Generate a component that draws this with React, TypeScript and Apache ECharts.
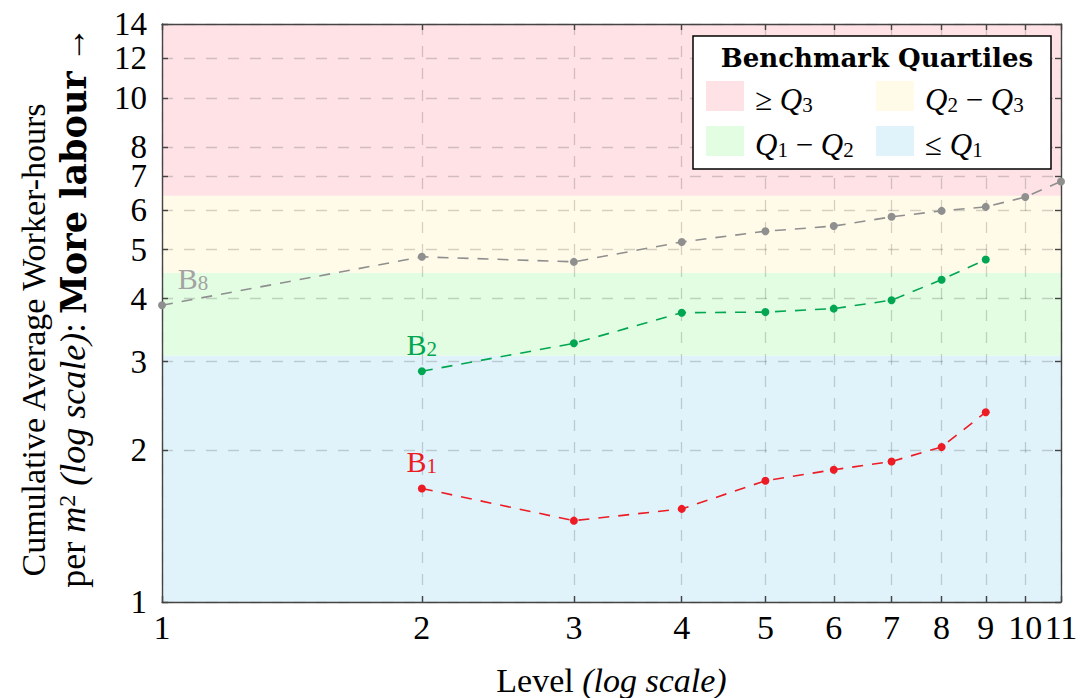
import React, { useEffect, useRef } from 'react';
import * as echarts from 'echarts';

// ---------- data ----------
const b8Levels = [1, 2, 3, 4, 5, 6, 7, 8, 9, 10, 11];
const b8Values = [3.88, 4.84, 4.73, 5.18, 5.44, 5.57, 5.81, 5.97, 6.08, 6.36, 6.83];
const b2Levels = [2, 3, 4, 5, 6, 7, 8, 9];
const b2Values = [2.87, 3.26, 3.75, 3.76, 3.82, 3.97, 4.36, 4.78];
const b1Levels = [2, 3, 4, 5, 6, 7, 8, 9];
const b1Values = [1.68, 1.45, 1.53, 1.74, 1.83, 1.9, 2.03, 2.38];

const xTicks = [1, 2, 3, 4, 5, 6, 7, 8, 9, 10, 11];
const yTicks = [1, 2, 3, 4, 5, 6, 7, 8, 10, 12, 14];

// quartile band boundaries (low → high) and their names/colours
const quartileBounds = [1, 3.08, 4.5, 6.4, 14.02];
const bandNames = ['≤ Q_1', 'Q_1 − Q_2', 'Q_2 − Q_3', '≥ Q_3'];
const bandColors = ['#e0f3fb', '#e2fde2', '#fffbe8', '#fee2e5'];
const legendOrder = [3, 2, 1, 0];
const legendTitle = 'Benchmark Quartiles';

const SERIF = '"Liberation Serif", "DejaVu Serif", serif';
const BOLD = '"DejaVu Serif", "Liberation Serif", serif';

// convert "Q_3" style strings into rich text tokens
function texify(s: string): string {
  const parts: string[] = [];
  const re = /Q_(\d)/g;
  let last = 0;
  let m: RegExpExecArray | null;
  while ((m = re.exec(s)) !== null) {
    if (m.index > last) parts.push(`{n|${s.slice(last, m.index)}}`);
    parts.push(`{q|Q}{s|${m[1]}}`);
    last = m.index + m[0].length;
  }
  if (last < s.length) parts.push(`{n|${s.slice(last)}}`);
  return parts.join('');
}

const mathRich = {
  n: { fontFamily: SERIF, fontSize: 31, color: '#000', lineHeight: 38, verticalAlign: 'bottom' },
  q: { fontFamily: SERIF, fontStyle: 'italic', fontSize: 31, color: '#000', lineHeight: 38, verticalAlign: 'bottom' },
  s: { fontFamily: SERIF, fontSize: 21, color: '#000', lineHeight: 18, verticalAlign: 'bottom' },
};

function seriesLabel(name: string, sub: string, color: string, offset: number[], distance: number) {
  return {
    show: true,
    position: 'top',
    distance,
    offset,
    formatter: `{b|${name}}{s|${sub}}`,
    rich: {
      b: { fontFamily: SERIF, fontSize: 30, color, lineHeight: 36, verticalAlign: 'bottom' },
      s: { fontFamily: SERIF, fontSize: 21, color, lineHeight: 19, verticalAlign: 'bottom' },
    },
  };
}

function makeData(xs: number[], ys: number[], label: any) {
  return xs.map((x, i) => (i === 0 ? { value: [x, ys[i]], label } : { value: [x, ys[i]] }));
}

const gridLine = { type: [11, 11], color: 'rgba(0,0,0,0.17)', width: 1.3 };
const frameLine = { color: '#444', width: 1.4 };

export default function App() {
  const ref = useRef<HTMLDivElement>(null);
  useEffect(() => {
    if (!ref.current) return;
    const chart = echarts.init(ref.current, undefined, { renderer: 'svg' });

    const bandData = quartileBounds.slice(0, -1).map((lo, i) => [
      { yAxis: lo, itemStyle: { color: bandColors[i] } },
      { yAxis: quartileBounds[i + 1] },
    ]);

    const legendEls: any[] = [
      {
        type: 'rect',
        shape: { x: 693, y: 36, width: 358, height: 133 },
        style: { fill: '#fff', stroke: '#000', lineWidth: 1.5 },
        z: 10,
      },
      {
        type: 'text',
        x: 877,
        y: 58,
        style: {
          text: legendTitle,
          font: `bold 26px ${BOLD}`,
          fill: '#000',
          textAlign: 'center',
          textVerticalAlign: 'middle',
        },
        z: 11,
      },
    ];
    legendOrder.forEach((bi, k) => {
      const col = k % 2;
      const row = Math.floor(k / 2);
      const sx = col === 0 ? 706 : 876;
      const sy = row === 0 ? 81 : 126;
      legendEls.push({
        type: 'rect',
        shape: { x: sx, y: sy, width: 38, height: 30 },
        style: { fill: bandColors[bi] },
        z: 11,
      });
      legendEls.push({
        type: 'text',
        x: sx + 49,
        y: sy + 15,
        style: {
          text: texify(bandNames[bi]),
          rich: mathRich,
          textAlign: 'left',
          textVerticalAlign: 'middle',
        },
        z: 11,
      });
    });

    const yTitleRich = {
      r: { fontFamily: SERIF, fontSize: 34, color: '#000' },
      it: { fontFamily: SERIF, fontStyle: 'italic', fontSize: 34, color: '#000' },
    };
    const yTitle2Rich = {
      r: { fontFamily: SERIF, fontSize: 36, color: '#000' },
      it: { fontFamily: SERIF, fontStyle: 'italic', fontSize: 36, color: '#000' },
      sup: { fontFamily: SERIF, fontSize: 24, color: '#000', verticalAlign: 'top', lineHeight: 22 },
      bf: { fontFamily: BOLD, fontWeight: 'bold', fontSize: 35, color: '#000' },
    };

    const option: any = {
      animation: false,
      grid: { left: 162, right: 19, top: 24, bottom: 96, containLabel: false, outerBoundsMode: 'none' },
      xAxis: [
        {
          type: 'log',
          logBase: 10,
          min: 1,
          max: 11,
          position: 'bottom',
          z: 2,
          axisLine: { show: true, lineStyle: frameLine },
          axisTick: { show: true, inside: true, length: 6, customValues: xTicks, lineStyle: frameLine },
          axisLabel: {
            show: true,
            customValues: xTicks,
            formatter: (v: number) => String(Math.round(v)),
            fontFamily: SERIF,
            fontSize: 34,
            color: '#000',
            margin: 8,
          },
          splitLine: { show: true, lineStyle: gridLine },
          minorTick: { show: false },
          minorSplitLine: { show: false },
          name: '{r|Level }{i|(log scale)}',
          nameLocation: 'middle',
          nameGap: 61,
          nameTextStyle: {
            rich: {
              r: { fontFamily: SERIF, fontSize: 34, color: '#000' },
              i: { fontFamily: SERIF, fontStyle: 'italic', fontSize: 34, color: '#000' },
            },
          },
        },
        {
          type: 'log',
          logBase: 10,
          min: 1,
          max: 11,
          position: 'top',
          z: 2,
          axisLine: { show: true, lineStyle: frameLine },
          axisTick: { show: true, inside: true, length: 6, customValues: xTicks, lineStyle: frameLine },
          axisLabel: { show: false },
          splitLine: { show: false },
        },
      ],
      yAxis: [
        {
          type: 'log',
          logBase: 10,
          min: 1,
          max: 14.02,
          position: 'left',
          z: 2,
          axisLine: { show: true, lineStyle: frameLine },
          axisTick: { show: true, inside: true, length: 6, customValues: yTicks, lineStyle: frameLine },
          axisLabel: {
            show: true,
            customValues: yTicks,
            formatter: (v: number) => String(Math.round(v)),
            fontFamily: SERIF,
            fontSize: 33,
            lineHeight: 24,
            color: '#000',
            margin: 15,
          },
          splitLine: { show: true, lineStyle: gridLine },
          minorTick: { show: false },
          minorSplitLine: { show: false },
        },
        {
          type: 'log',
          logBase: 10,
          min: 1,
          max: 14.02,
          position: 'right',
          z: 2,
          axisLine: { show: true, lineStyle: frameLine },
          axisTick: { show: true, inside: true, length: 6, customValues: yTicks, lineStyle: frameLine },
          axisLabel: { show: false },
          splitLine: { show: false },
        },
      ],
      series: [
        {
          name: 'B8',
          type: 'line',
          z: 3,
          data: makeData(b8Levels, b8Values, seriesLabel('B', '8', '#a3a3a3', [31, 0], 8)),
          lineStyle: { color: '#8f8f8f', width: 1.6, type: [11, 9] },
          itemStyle: { color: '#8f8f8f' },
          symbol: 'circle',
          symbolSize: 8,
          markArea: { silent: true, z: 1, data: bandData },
        },
        {
          name: 'B2',
          type: 'line',
          z: 3,
          data: makeData(b2Levels, b2Values, seriesLabel('B', '2', '#00a651', [0, 0], 8)),
          lineStyle: { color: '#00a651', width: 1.6, type: [11, 9] },
          itemStyle: { color: '#00a651' },
          symbol: 'circle',
          symbolSize: 8,
        },
        {
          name: 'B1',
          type: 'line',
          z: 3,
          data: makeData(b1Levels, b1Values, seriesLabel('B', '1', '#ed1c24', [0, 0], 8)),
          lineStyle: { color: '#ed1c24', width: 1.6, type: [11, 9] },
          itemStyle: { color: '#ed1c24' },
          symbol: 'circle',
          symbolSize: 8,
        },
      ],
      graphic: [
        ...legendEls,
        {
          type: 'text',
          x: 33,
          y: 340,
          rotation: Math.PI / 2,
          style: {
            text: '{r|Cumulative Average Worker-hours}',
            rich: yTitleRich,
            textAlign: 'center',
            textVerticalAlign: 'middle',
          },
        },
        {
          type: 'text',
          x: 73,
          y: 307,
          rotation: Math.PI / 2,
          style: {
            text: '{r|per }{it|m}{sup|2}{r| }{it|(log scale)}{r|: }{bf|More labour}{r| →}',
            rich: yTitle2Rich,
            textAlign: 'center',
            textVerticalAlign: 'middle',
          },
        },
      ],
    };
    chart.setOption(option);
    return () => chart.dispose();
  }, []);
  return <div ref={ref} style={{ width: 1080, height: 698, position: 'absolute', left: 0, top: 0 }} />;
}
